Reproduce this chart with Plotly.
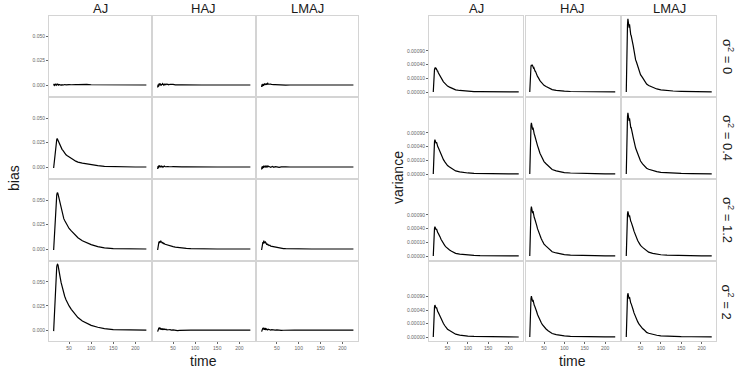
import numpy as np
import plotly.graph_objects as go

W, H = 748, 377

time = [15, 16, 17, 18, 19, 20, 21, 22, 23, 24, 25, 26, 27, 28, 29, 30, 32, 34, 36, 38, 40,
        43, 46, 50, 55, 60, 65, 70, 80, 90, 100, 115, 130, 150, 175, 200, 225]

methods = ["AJ", "HAJ", "LMAJ"]
sigma_labels = ["σ<sup>2</sup> = 0", "σ<sup>2</sup> = 0.4", "σ<sup>2</sup> = 1.2", "σ<sup>2</sup> = 2"]

# bias, in units of 1e-3
bias_aj_0 = [-0.5, 1.2, -0.3, 0.8, 0.2, 1.0, -0.2, 0.6, 0.0, 0.9, 0.3, -0.4, 0.5, 0.1, 0.7, 0.2, -0.3, 0.4,
             0.0, 0.3, 0.5, 0.2, 0.6, 0.4, 0.3, 0.6, 0.5, 0.4, 0.7, 0.6, 0.3, 0.2, 0.1, 0.1, 0.0, 0.0, 0.0]
bias_haj_0 = [-2.5, 0.5, -1.8, 1.5, -0.5, 1.8, 0.2, 1.2, -0.6, 1.0, 0.3, 1.4, 0.4, 0.9, -0.2, 0.8, 0.2, 1.0,
              0.5, 0.9, 0.3, 0.8, 0.4, 0.6, 0.2, 0.5, 0.2, 0.3, 0.1, 0.1, 0.0, 0.0, 0.0, 0.0, 0.0, 0.0, 0.0]
bias_lmaj_0 = [-2.0, 0.8, -1.5, 1.2, -0.8, 1.0, 0.5, 1.6, 0.2, 1.3, 0.6, 1.1, 0.3, 1.5, 2.2, 0.8, 1.0, 0.7,
               0.9, 0.5, 0.7, 0.4, 0.5, 0.3, 0.1, -0.2, -0.3, -0.1, 0.0, 0.1, 0.2, 0.1, 0.0, 0.0, 0.0, 0.0, 0.0]
bias_aj_04 = [-1.0, 4, 9, 14, 19, 23, 26, 28, 29, 28, 26.5, 25, 24, 23, 22, 21, 19, 18, 17, 15.5, 14,
              12.5, 11.5, 10.5, 9.5, 7.5, 6, 5, 4, 3.5, 2.5, 1.5, 0.7, 0.3, 0.1, 0.0, 0.0]
bias_haj_04 = [-2.0, 1.0, -1.2, 1.8, 0.2, 1.5, -0.3, 1.0, 0.4, 1.2, 0.2, 0.9, -0.2, 0.6, 0.5, 1.0, 0.3, 0.6,
               0.2, 0.5, 0.4, 0.7, 0.3, 0.4, 0.2, 0.1, 0.3, 0.2, 0.1, 0.0, 0.1, 0.0, 0.0, 0.0, 0.0, 0.0, 0.0]
bias_lmaj_04 = [-2.5, 0.5, -1.8, 1.0, -1.0, 1.5, 0.0, 1.2, -0.5, 0.8, 0.5, 1.3, 0.2, 0.7, -0.3, 0.9, 0.5, 0.2,
                -0.4, 0.3, 0.6, -0.2, 0.4, 0.1, -0.3, 0.2, 0.5, 0.2, 0.0, -0.1, 0.0, 0.0, 0.0, 0.0, 0.0, 0.0, 0.0]
bias_aj_12 = [-1.0, 8, 18, 28, 37, 45, 51, 55, 57, 57.5, 56, 54, 51, 48.5, 46, 44, 40, 37, 34, 31, 29,
              26.5, 24, 21, 18.5, 16, 13.5, 11.5, 8.5, 6.5, 4.5, 2.5, 1.2, 0.5, 0.2, 0.1, 0.0]
bias_haj_12 = [-1.0, 3.0, 5.5, 7.5, 6.0, 8.0, 6.5, 8.5, 7.0, 7.5, 6.0, 7.0, 5.5, 6.5, 5.0, 5.5, 4.8, 4.5,
               4.0, 3.6, 3.8, 3.0, 2.8, 2.5, 2.0, 1.6, 1.4, 1.0, 0.7, 0.5, 0.3, 0.2, 0.1, 0.0, 0.0, 0.0, 0.0]
bias_lmaj_12 = [-1.0, 2.5, 5.0, 7.0, 5.5, 8.5, 6.0, 7.5, 6.5, 7.0, 5.5, 6.0, 4.5, 5.5, 4.0, 4.5, 3.5, 3.8,
                3.0, 2.8, 2.5, 2.0, 1.6, 1.2, 1.0, 0.8, 0.5, 0.4, 0.2, 0.1, 0.0, 0.0, 0.0, 0.0, 0.0, 0.0, 0.0]
bias_aj_2 = [-1.0, 10, 22, 34, 45, 54, 61, 65.5, 67.5, 68, 67, 65, 62.5, 60, 57, 54, 49, 45, 41.5, 38, 35,
             31.5, 28.5, 25, 21.5, 18.5, 15.5, 13, 9.5, 7, 5, 3, 1.5, 0.6, 0.2, 0.1, 0.0]
bias_haj_2 = [-1.5, 1.5, 0.0, 2.5, 1.0, 2.8, 0.5, 2.0, 1.2, 1.8, 0.3, 1.5, 0.8, 1.6, 0.4, 1.2, 0.6, 0.9,
              0.2, 0.7, 0.4, 0.6, 0.1, 0.3, -0.2, -0.4, -0.2, -0.3, -0.1, 0.0, 0.0, 0.0, 0.0, 0.0, 0.0, 0.0, 0.0]
bias_lmaj_2 = [-1.5, 1.0, -0.5, 2.2, 0.8, 2.5, 0.4, 1.8, 1.0, 1.5, 0.2, 1.3, 0.6, 1.2, 0.3, 0.9, 0.5, 0.7,
               0.1, 0.5, 0.3, 0.4, 0.0, 0.2, -0.2, -0.3, -0.1, -0.2, 0.0, 0.0, 0.0, 0.0, 0.0, 0.0, 0.0, 0.0, 0.0]

# variance, in units of 1e-4
var_aj_0 = [0, 1.1, 2.1, 2.7, 3.0, 3.2, 2.8, 3.1, 2.6, 2.7, 2.3, 2.4, 2.0, 1.85, 1.75, 1.6, 1.35, 1.05, 0.86,
            0.64, 0.55, 0.42, 0.30, 0.19, 0.13, 0.08, 0.04, 0.026, 0.013, 0.006, 0.003, 0.0013, 0.0006,
            0.0003, 0.00015, 0.00006, 0.00003]
var_haj_0 = [0, 1.5, 2.8, 3.6, 3.9, 3.6, 4.0, 3.3, 3.7, 3.1, 3.2, 2.7, 2.6, 2.3, 2.3, 2.0, 1.7, 1.3, 1.1,
             0.8, 0.7, 0.52, 0.38, 0.24, 0.16, 0.1, 0.05, 0.032, 0.016, 0.007, 0.0035, 0.0016, 0.0008,
             0.0004, 0.0002, 0.00008, 0.00004]
var_lmaj_0 = [0, 10, 18.5, 24, 28.5, 26, 27.5, 22, 24.5, 20, 21, 17.5, 17, 15, 15.5, 13.5, 11.5, 9, 7.5,
              5.5, 4.8, 3.6, 2.6, 1.6, 1.1, 0.7, 0.34, 0.22, 0.11, 0.05, 0.025, 0.011, 0.0055, 0.0028,
              0.0014, 0.0006, 0.0003]
var_aj_04 = [0, 2.2, 4.2, 5.5, 6.3, 5.6, 6.0, 5.0, 5.4, 4.6, 4.7, 4.0, 3.8, 3.5, 3.4, 3.1, 2.6, 2.1, 1.7,
             1.3, 1.1, 0.82, 0.6, 0.38, 0.26, 0.16, 0.08, 0.05, 0.025, 0.012, 0.006, 0.0025, 0.0012,
             0.0006, 0.0003, 0.00012, 0.00006]
var_haj_04 = [0, 5, 9.5, 12.5, 14, 12, 13.2, 10.5, 11.5, 9.5, 10, 8.5, 8, 7.2, 7.3, 6.3, 5.4, 4.3, 3.6,
              2.7, 2.3, 1.8, 1.3, 0.82, 0.56, 0.35, 0.17, 0.11, 0.055, 0.025, 0.012, 0.0055, 0.0027,
              0.0013, 0.0007, 0.0003, 0.00014]
var_lmaj_04 = [0, 7, 13.5, 17.5, 20, 17, 18.5, 15, 16.5, 13, 14, 11.5, 11.5, 9.8, 10, 8.8, 7.2, 5.6, 4.4,
               3.6, 3.0, 2.2, 1.5, 0.9, 0.55, 0.32, 0.18, 0.12, 0.06, 0.03, 0.015, 0.007, 0.0035,
               0.0018, 0.0009, 0.0004, 0.0002]
var_aj_12 = [0, 1.6, 3.1, 4.0, 4.6, 4.1, 4.4, 3.7, 3.9, 3.3, 3.4, 2.9, 2.8, 2.5, 2.5, 2.2, 1.9, 1.5, 1.25,
             0.95, 0.8, 0.6, 0.44, 0.28, 0.19, 0.12, 0.06, 0.037, 0.018, 0.009, 0.0045, 0.0019, 0.0009,
             0.00045, 0.0002, 0.0001, 0.00005]
var_haj_12 = [0, 4.5, 8.8, 11.5, 13, 11.2, 12.3, 9.8, 10.7, 8.8, 9.3, 7.9, 7.5, 6.7, 6.8, 5.9, 5.0, 4.0,
              3.3, 2.5, 2.2, 1.65, 1.2, 0.76, 0.52, 0.32, 0.16, 0.1, 0.05, 0.023, 0.011, 0.005, 0.0025,
              0.0012, 0.0006, 0.00025, 0.00012]
var_lmaj_12 = [0, 3.7, 7.2, 9.4, 10.6, 9.2, 10.0, 8.1, 8.8, 7.2, 7.6, 6.4, 6.2, 5.5, 5.6, 4.8, 4.1, 3.3,
               2.7, 2.0, 1.75, 1.3, 0.95, 0.6, 0.4, 0.25, 0.12, 0.08, 0.04, 0.018, 0.009, 0.004, 0.002,
               0.001, 0.0005, 0.0002, 0.0001]
var_aj_2 = [0, 2.0, 3.8, 4.9, 5.6, 5.0, 5.4, 4.5, 4.8, 4.0, 4.2, 3.5, 3.4, 3.0, 3.0, 2.7, 2.3, 1.85, 1.5,
            1.15, 1.0, 0.73, 0.53, 0.34, 0.23, 0.14, 0.07, 0.045, 0.022, 0.01, 0.005, 0.0022, 0.0011,
            0.0005, 0.00025, 0.0001, 0.00005]
var_haj_2 = [0, 3.2, 6.2, 8.1, 9.2, 7.9, 8.6, 6.9, 7.6, 6.2, 6.6, 5.5, 5.3, 4.7, 4.8, 4.1, 3.5, 2.8, 2.3,
             1.75, 1.5, 1.15, 0.83, 0.53, 0.36, 0.22, 0.11, 0.07, 0.035, 0.016, 0.008, 0.0035, 0.0017,
             0.0008, 0.0004, 0.00017, 0.00008]
var_lmaj_2 = [0, 3.6, 7.1, 9.3, 10.5, 9.0, 9.9, 8.0, 8.7, 7.1, 7.5, 6.3, 6.1, 5.4, 5.5, 4.7, 4.0, 3.2, 2.6,
              2.0, 1.7, 1.3, 0.94, 0.6, 0.4, 0.25, 0.12, 0.08, 0.04, 0.018, 0.009, 0.004, 0.002, 0.001,
              0.0005, 0.0002, 0.0001]

bias_rows = [[bias_aj_0, bias_haj_0, bias_lmaj_0],
             [bias_aj_04, bias_haj_04, bias_lmaj_04],
             [bias_aj_12, bias_haj_12, bias_lmaj_12],
             [bias_aj_2, bias_haj_2, bias_lmaj_2]]
var_rows = [[var_aj_0, var_haj_0, var_lmaj_0],
            [var_aj_04, var_haj_04, var_lmaj_04],
            [var_aj_12, var_haj_12, var_lmaj_12],
            [var_aj_2, var_haj_2, var_lmaj_2]]

bias_ticks = [0.0, 0.025, 0.05]
bias_ticktext = ["0.000", "0.025", "0.050"]
var_ticks = [0.0, 0.0001, 0.0004, 0.0009]
var_ticktext = ["0.00000", "0.00010", "0.00040", "0.00090"]
time_ticks = [50, 100, 150, 200]

# panel positions in pixels
left_cols = [(49, 151), (153, 255), (257, 358)]
right_cols = [(429, 523), (525.5, 619.5), (622, 716)]
rows_px = [(16, 96), (98, 178), (180, 260), (262, 341)]

BORDER = "#d4d4d4"
TICKC = "#666666"

fig = go.Figure()
layout = {}
k = 0
for side in ["bias", "var"]:
    cols = left_cols if side == "bias" else right_cols
    data_rows = bias_rows if side == "bias" else var_rows
    for r in range(4):
        for c in range(3):
            k += 1
            vals = np.array(data_rows[r][c])
            if side == "bias":
                y = vals * 1e-3
            else:
                # square-root scale on the variance axis
                y = np.sqrt(vals * 1e-4)
            fig.add_trace(go.Scatter(x=time, y=y, mode="lines",
                                     line=dict(color="black", width=1.2),
                                     xaxis="x%d" % k, yaxis="y%d" % k,
                                     hoverinfo="skip"))
            x0, x1 = cols[c]
            t0, t1 = rows_px[r]
            xa = dict(domain=[x0 / W, x1 / W], range=[4.5, 235.5], anchor="y%d" % k,
                      showgrid=False, zeroline=False, showline=True, mirror=True,
                      linecolor=BORDER, linewidth=1,
                      tickvals=time_ticks, showticklabels=(r == 3),
                      ticks="outside" if r == 3 else "", ticklen=2, tickcolor=TICKC,
                      tickfont=dict(size=5, color=TICKC, family="Liberation Sans"))
            if side == "bias":
                yrange = [-0.0112, 0.0704]
                tv, tt = bias_ticks, bias_ticktext
            else:
                yrange = [-0.0029, 0.0555]
                tv, tt = list(np.sqrt(var_ticks)), var_ticktext
            ya = dict(domain=[1 - t1 / H, 1 - t0 / H], range=yrange, anchor="x%d" % k,
                      showgrid=False, zeroline=False, showline=True, mirror=True,
                      linecolor=BORDER, linewidth=1,
                      tickvals=tv, ticktext=tt, showticklabels=(c == 0),
                      ticks="outside" if c == 0 else "", ticklen=2, tickcolor=TICKC,
                      tickfont=dict(size=5, color=TICKC, family="Liberation Sans"))
            suffix = "" if k == 1 else str(k)
            layout["xaxis" + suffix] = xa
            layout["yaxis" + suffix] = ya

fig.update_layout(**layout)

ann = []
font_strip = dict(size=13, color="#1a1a1a", family="Liberation Sans")
for cols in [left_cols, right_cols]:
    for c, name in enumerate(methods):
        ann.append(dict(text=name, x=(cols[c][0] + cols[c][1]) / 2 / W, y=1 - 8 / H,
                        xref="paper", yref="paper", showarrow=False, font=font_strip,
                        xanchor="center", yanchor="middle"))
for r, lab in enumerate(sigma_labels):
    ann.append(dict(text=lab, x=728 / W, y=1 - (rows_px[r][0] + rows_px[r][1]) / 2 / H,
                    xref="paper", yref="paper", showarrow=False, font=font_strip,
                    textangle=90, xanchor="center", yanchor="middle"))
font_title = dict(size=14, color="#1a1a1a", family="Liberation Sans")
ann.append(dict(text="time", x=(49 + 358) / 2 / W, y=1 - 361 / H, xref="paper", yref="paper",
                showarrow=False, font=font_title, xanchor="center", yanchor="middle"))
ann.append(dict(text="time", x=(429 + 716) / 2 / W, y=1 - 361 / H, xref="paper", yref="paper",
                showarrow=False, font=font_title, xanchor="center", yanchor="middle"))
ann.append(dict(text="bias", x=14 / W, y=1 - 178 / H, xref="paper", yref="paper",
                showarrow=False, font=font_title, textangle=-90, xanchor="center", yanchor="middle"))
ann.append(dict(text="variance", x=398 / W, y=1 - 178 / H, xref="paper", yref="paper",
                showarrow=False, font=font_title, textangle=-90, xanchor="center", yanchor="middle"))

fig.update_layout(width=W, height=H, margin=dict(l=0, r=0, t=0, b=0),
                  paper_bgcolor="white", plot_bgcolor="white", showlegend=False,
                  annotations=ann)

# the page body has a default 8px margin; remove it so the figure sits at the corner
fig.write_html("out.html", config={"displayModeBar": False},
               post_script="document.body.style.margin='0';")
